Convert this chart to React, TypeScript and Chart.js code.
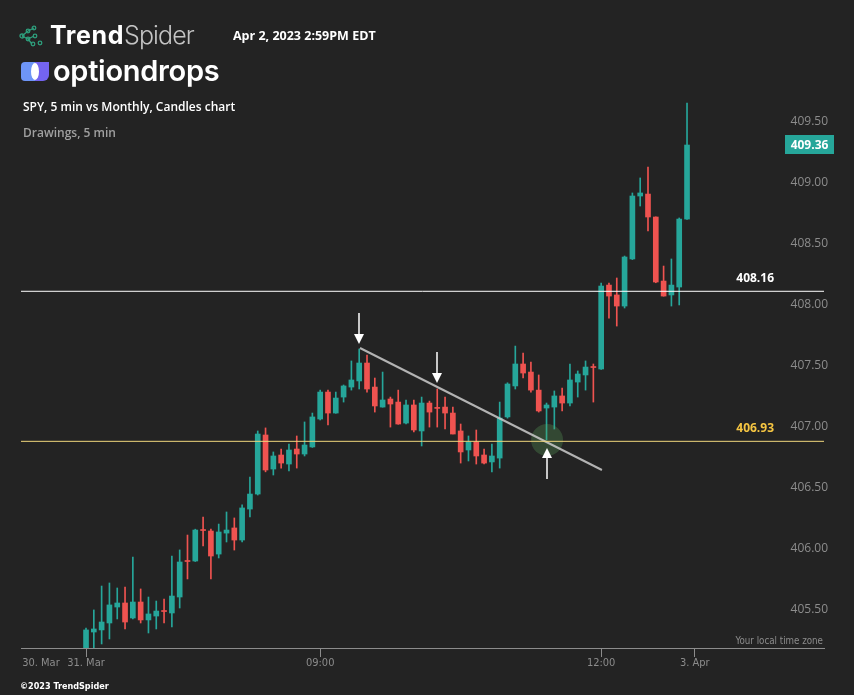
import React, { useEffect, useRef } from 'react';
import { Chart, registerables } from 'chart.js';

Chart.register(...registerables);

// ---- Data (5-minute SPY candles, 31 Mar) ----
const opens = [
  405.18, 405.367, 405.384, 405.441, 405.572, 405.605, 405.482, 405.613, 405.466, 405.498,
  405.542, 405.523, 405.654, 405.953, 405.949, 406.207, 406.195, 406.006, 406.178, 406.22,
  406.121, 406.375, 406.498, 406.982, 406.703, 406.818, 406.744, 406.867, 406.826, 406.884,
  407.113, 407.334, 407.162, 407.293, 407.375, 407.425, 407.572, 407.375, 407.211, 407.277,
  407.252, 407.08, 407.228, 407.015, 407.244, 407.205, 407.211, 407.162, 407.015, 406.859,
  406.925, 406.818, 406.761, 406.793, 407.13, 407.384, 407.564, 407.498, 407.35, 407.203,
  407.211, 407.302, 407.244, 407.416, 407.474, 407.542, 407.523, 408.211, 408.13, 408.039,
  408.425, 408.941, 408.957, 408.769, 408.244, 408.13, 408.195, 408.752,
];
const highs = [
  405.40, 405.548, 405.744, 405.769, 405.728, 405.736, 405.982, 405.72, 405.654, 405.621,
  405.638, 405.99, 406.04, 406.162, 406.21, 406.31, 406.21, 406.252, 406.351, 406.302,
  406.41, 406.638, 407.015, 407.04, 406.843, 406.867, 406.908, 406.974, 407.089, 407.162,
  407.35, 407.35, 407.334, 407.392, 407.589, 407.687, 407.638, 407.449, 407.498, 407.293,
  407.35, 407.269, 407.269, 407.293, 407.26, 407.359, 407.293, 407.211, 407.072, 406.974,
  407.023, 406.867, 406.908, 407.252, 407.41, 407.711, 407.654, 407.58, 407.474, 407.244,
  407.343, 407.367, 407.564, 407.507, 407.589, 407.564, 408.228, 408.228, 408.269, 408.449,
  408.966, 409.089, 409.179, 408.77, 408.367, 408.425, 408.761, 409.703,
];
const lows = [
  405.15, 405.22, 405.269, 405.31, 405.474, 405.392, 405.474, 405.441, 405.359, 405.392,
  405.441, 405.408, 405.564, 405.802, 405.945, 406.072, 405.802, 405.974, 406.105, 406.039,
  406.105, 406.31, 406.49, 406.68, 406.654, 406.711, 406.687, 406.711, 406.81, 406.88,
  407.105, 407.064, 407.16, 407.252, 407.35, 407.359, 407.334, 407.17, 407.21, 407.047,
  407.07, 407.072, 407.007, 406.892, 407.047, 407.047, 407.031, 406.99, 406.752, 406.769,
  406.744, 406.744, 406.68, 406.711, 407.12, 407.359, 407.449, 407.334, 407.17, 406.941,
  407.031, 407.179, 407.22, 407.293, 407.35, 407.252, 407.52, 407.94, 407.875, 408.023,
  408.42, 408.859, 408.654, 408.23, 408.12, 408.039, 408.048, 408.75,
];
const closes = [
  405.384, 405.392, 405.449, 405.589, 405.605, 405.449, 405.613, 405.466, 405.515, 405.539,
  405.535, 405.662, 405.941, 405.945, 406.203, 406.199, 405.99, 406.187, 406.203, 406.121,
  406.384, 406.498, 406.99, 406.695, 406.81, 406.752, 406.859, 406.826, 406.9, 407.13,
  407.334, 407.162, 407.285, 407.384, 407.433, 407.572, 407.359, 407.22, 407.269, 407.236,
  407.072, 407.228, 407.023, 407.244, 407.17, 407.2, 407.162, 406.99, 406.843, 406.925,
  406.81, 406.752, 406.81, 407.121, 407.4, 407.564, 407.49, 407.35, 407.179, 407.228,
  407.302, 407.244, 407.433, 407.482, 407.539, 407.535, 408.203, 408.121, 408.039, 408.441,
  408.941, 408.966, 408.769, 408.236, 408.121, 408.211, 408.752, 409.359,
];

const xTickValues = [-5.77, 0, 30, 66, 78];
const xTickLabels = ['30. Mar', '31. Mar', '09:00', '12:00', '3. Apr'];
const yTickValues = [405.5, 406.0, 406.5, 407.0, 407.5, 408.0, 408.5, 409.0, 409.5];

const levelHigh = 408.16;
const levelLow = 406.93;
const lastPrice = 409.36;
const trendLine = [
  { x: 35.1, y: 407.695 },
  { x: 66.1, y: 406.695 },
];
const downArrows = [
  { x: 35, y: 407.728 },
  { x: 45, y: 407.408 },
];
const upArrows = [{ x: 59, y: 406.876 }];
const highlight = [{ x: 59.07, y: 406.941, r: 16 }];

const X_MIN = -8.33;
const X_MAX = 94.55;
const Y_MIN = 405.236;
const Y_MAX = 409.81;

const UP = '#26a69a';
const DOWN = '#ef5350';

const overlayPlugin = {
  id: 'overlay',
  afterDatasetsDraw(chart: any) {
    const { ctx, scales } = chart;
    const x = scales.x;
    const y = scales.y;
    ctx.save();
    ctx.fillStyle = '#ffffff';
    ctx.strokeStyle = '#ffffff';
    ctx.lineWidth = 1.5;
    downArrows.forEach((a) => {
      const px = Math.round(x.getPixelForValue(a.x));
      const tip = y.getPixelForValue(a.y);
      ctx.beginPath();
      ctx.moveTo(px, tip - 31);
      ctx.lineTo(px, tip - 9);
      ctx.stroke();
      ctx.beginPath();
      ctx.moveTo(px - 5, tip - 10);
      ctx.lineTo(px + 5, tip - 10);
      ctx.lineTo(px, tip);
      ctx.closePath();
      ctx.fill();
    });
    upArrows.forEach((a) => {
      const px = Math.round(x.getPixelForValue(a.x));
      const tip = y.getPixelForValue(a.y);
      ctx.beginPath();
      ctx.moveTo(px, tip + 9);
      ctx.lineTo(px, tip + 31);
      ctx.stroke();
      ctx.beginPath();
      ctx.moveTo(px - 5, tip + 10);
      ctx.lineTo(px + 5, tip + 10);
      ctx.lineTo(px, tip);
      ctx.closePath();
      ctx.fill();
    });
    ctx.font = 'bold 12px "Open Sans", sans-serif';
    ctx.textAlign = 'right';
    ctx.textBaseline = 'middle';
    ctx.fillStyle = '#ffffff';
    ctx.fillText(levelHigh.toFixed(2), x.right - 50, y.getPixelForValue(levelHigh) - 12.5);
    ctx.fillStyle = '#f5c542';
    ctx.fillText(levelLow.toFixed(2), x.right - 50, y.getPixelForValue(levelLow) - 12.5);
    const py = y.getPixelForValue(lastPrice);
    ctx.fillStyle = UP;
    ctx.fillRect(x.right - 39, Math.round(py - 9.5), 49, 19);
    ctx.fillStyle = '#ffffff';
    ctx.textAlign = 'center';
    ctx.fillText(lastPrice.toFixed(2), x.right - 14.5, py + 0.5);
    ctx.restore();
  },
};

function TrendSpiderIcon() {
  const c = '#2e9e7c';
  return (
    <svg width="25" height="22" viewBox="0 0 25 22" style={{ position: 'absolute', left: 19, top: 25 }}>
      <g stroke={c} strokeWidth="1.3" fill="none">
        <line x1="3" y1="11" x2="9" y2="6" />
        <line x1="3" y1="11" x2="9" y2="14" />
        <line x1="9" y1="6" x2="15" y2="3" />
        <line x1="9" y1="14" x2="15" y2="11" />
        <line x1="9" y1="14" x2="13" y2="19" />
        <circle cx="3" cy="11" r="2" />
        <circle cx="9" cy="6" r="1.8" />
        <circle cx="9" cy="14" r="1.8" />
        <circle cx="15" cy="3" r="1.8" />
        <circle cx="16" cy="11" r="1.8" />
        <circle cx="14" cy="19" r="1.8" />
        <circle cx="21" cy="18" r="1.8" />
      </g>
    </svg>
  );
}

function OptionDropsIcon() {
  return (
    <svg width="30" height="21" viewBox="0 0 30 21" style={{ position: 'absolute', left: 20, top: 61 }}>
      <path d="M5 1 H15 V20 H5 A4 4 0 0 1 1 16 V5 A4 4 0 0 1 5 1 Z" fill="#6e95f7" />
      <path d="M15 1 H29 V14 A6 6 0 0 1 23 20 H15 Z" fill="#7464f0" />
      <ellipse cx="15" cy="10.5" rx="4" ry="8.5" fill="#ffffff" />
    </svg>
  );
}

export default function App() {
  const canvasRef = useRef<HTMLCanvasElement | null>(null);

  useEffect(() => {
    document.body.style.margin = '0';
    const canvas = canvasRef.current;
    if (!canvas) return;
    const colors = opens.map((o, i) => (closes[i] >= o ? UP : DOWN));
    const bodies = opens.map((o, i) => ({ x: i, y: [o, closes[i]] }));
    const wicks = opens.map((_, i) => ({ x: i, y: [lows[i], highs[i]] }));

    const chart = new Chart(canvas, {
      type: 'bar',
      data: {
        datasets: [
          {
            type: 'line',
            data: [{ x: X_MIN, y: levelHigh }, { x: X_MAX, y: levelHigh }],
            borderColor: '#ffffff',
            borderWidth: 1,
            pointRadius: 0,
            order: 0,
          } as any,
          {
            type: 'line',
            data: [{ x: X_MIN, y: levelLow }, { x: X_MAX, y: levelLow }],
            borderColor: '#f0d67c',
            borderWidth: 1,
            pointRadius: 0,
            order: 0,
          } as any,
          {
            type: 'line',
            data: trendLine,
            borderColor: 'rgba(205,205,205,0.85)',
            borderWidth: 2,
            pointRadius: 0,
            order: 0,
          } as any,
          {
            type: 'bubble',
            data: highlight,
            backgroundColor: 'rgba(95,170,95,0.28)',
            borderWidth: 0,
            order: 1,
          } as any,
          {
            type: 'bar',
            data: bodies,
            backgroundColor: colors,
            borderWidth: 0,
            barThickness: 5,
            minBarLength: 1,
            grouped: false,
            order: 2,
          } as any,
          {
            type: 'bar',
            data: wicks,
            backgroundColor: colors,
            borderWidth: 0,
            barThickness: 1,
            grouped: false,
            order: 3,
          } as any,
        ],
      },
      options: {
        animation: false,
        responsive: false,
        events: [],
        layout: { padding: { left: 21, right: 30, top: 90, bottom: 0 } },
        plugins: { legend: { display: false }, tooltip: { enabled: false } },
        scales: {
          x: {
            type: 'linear',
            min: X_MIN,
            max: X_MAX,
            offset: false,
            afterFit: (s: any) => {
              s.height = 47;
            },
            afterBuildTicks: (s: any) => {
              s.ticks = xTickValues.map((v) => ({ value: v }));
            },
            grid: {
              offset: false,
              drawOnChartArea: false,
              drawTicks: true,
              tickLength: 9,
              tickColor: (c: any) => (c.tick && c.tick.value < -1 ? 'rgba(0,0,0,0)' : '#8c8c8c'),
            },
            border: { display: true, color: '#8c8c8c', width: 1 },
            ticks: {
              autoSkip: false,
              maxRotation: 0,
              padding: 0,
              color: '#8c8c8c',
              font: { family: '"DejaVu Sans Condensed", "Liberation Sans Narrow", sans-serif', size: 11 },
              callback: (v: any) => {
                const k = xTickValues.indexOf(Number(v));
                return k >= 0 ? xTickLabels[k] : '';
              },
            },
          },
          y: {
            type: 'linear',
            position: 'right',
            min: Y_MIN,
            max: Y_MAX,
            beginAtZero: false,
            afterFit: (s: any) => {
              s.width = 0;
            },
            afterBuildTicks: (s: any) => {
              s.ticks = yTickValues.map((v) => ({ value: v }));
            },
            grid: { display: false, drawTicks: false },
            border: { display: false },
            ticks: {
              mirror: true,
              padding: 4,
              labelOffset: -6,
              color: '#8c8c8c',
              font: { family: '"Open Sans", sans-serif', size: 12 },
              callback: (v: any) => Number(v).toFixed(2),
            },
          },
        },
      },
      plugins: [overlayPlugin],
    } as any);
    return () => chart.destroy();
  }, []);

  const narrow = '"DejaVu Sans Condensed", "Liberation Sans Narrow", sans-serif';

  return (
    <div
      style={{
        position: 'fixed',
        left: 0,
        top: 0,
        width: 854,
        height: 695,
        background: '#232323',
        overflow: 'hidden',
        fontFamily: '"Open Sans", sans-serif',
      }}
    >
      <canvas ref={canvasRef} width={854} height={695} style={{ position: 'absolute', left: 0, top: 0 }} />
      <TrendSpiderIcon />
      <div style={{ position: 'absolute', left: 50, top: 20, fontFamily: 'Inter, sans-serif', fontSize: 25, lineHeight: '30px', whiteSpace: 'nowrap' }}>
        <span style={{ color: '#ffffff', fontWeight: 700, letterSpacing: 0.6 }}>Trend</span>
        <span style={{ color: '#c4c4c4', fontWeight: 300, letterSpacing: -0.9 }}>Spider</span>
      </div>
      <div style={{ position: 'absolute', left: 233, top: 28, color: '#ffffff', fontWeight: 700, fontSize: 12.5, lineHeight: '16px', whiteSpace: 'nowrap' }}>
        Apr 2, 2023 2:59PM EDT
      </div>
      <OptionDropsIcon />
      <div style={{ position: 'absolute', left: 53, top: 52, color: '#ffffff', fontFamily: 'Inter, sans-serif', fontWeight: 600, fontSize: 29, lineHeight: '38px', letterSpacing: -0.3, whiteSpace: 'nowrap' }}>
        optiondrops
      </div>
      <div style={{ position: 'absolute', left: 23, top: 99, color: '#ffffff', fontWeight: 600, fontSize: 12, lineHeight: '16px', whiteSpace: 'nowrap' }}>
        SPY, 5 min vs Monthly, Candles chart
      </div>
      <div style={{ position: 'absolute', left: 23, top: 125, color: '#a0a0a0', fontWeight: 600, fontSize: 12, lineHeight: '16px', whiteSpace: 'nowrap' }}>
        Drawings, 5 min
      </div>
      <div style={{ position: 'absolute', right: 854 - 823, top: 634, color: '#8c8c8c', fontFamily: narrow, fontSize: 9.7, lineHeight: '14px', whiteSpace: 'nowrap' }}>
        Your local time zone
      </div>
      <div style={{ position: 'absolute', left: 20, top: 679, color: '#ffffff', fontFamily: narrow, fontWeight: 700, fontSize: 9, lineHeight: '14px', whiteSpace: 'nowrap' }}>
        ©2023 TrendSpider
      </div>
    </div>
  );
}
